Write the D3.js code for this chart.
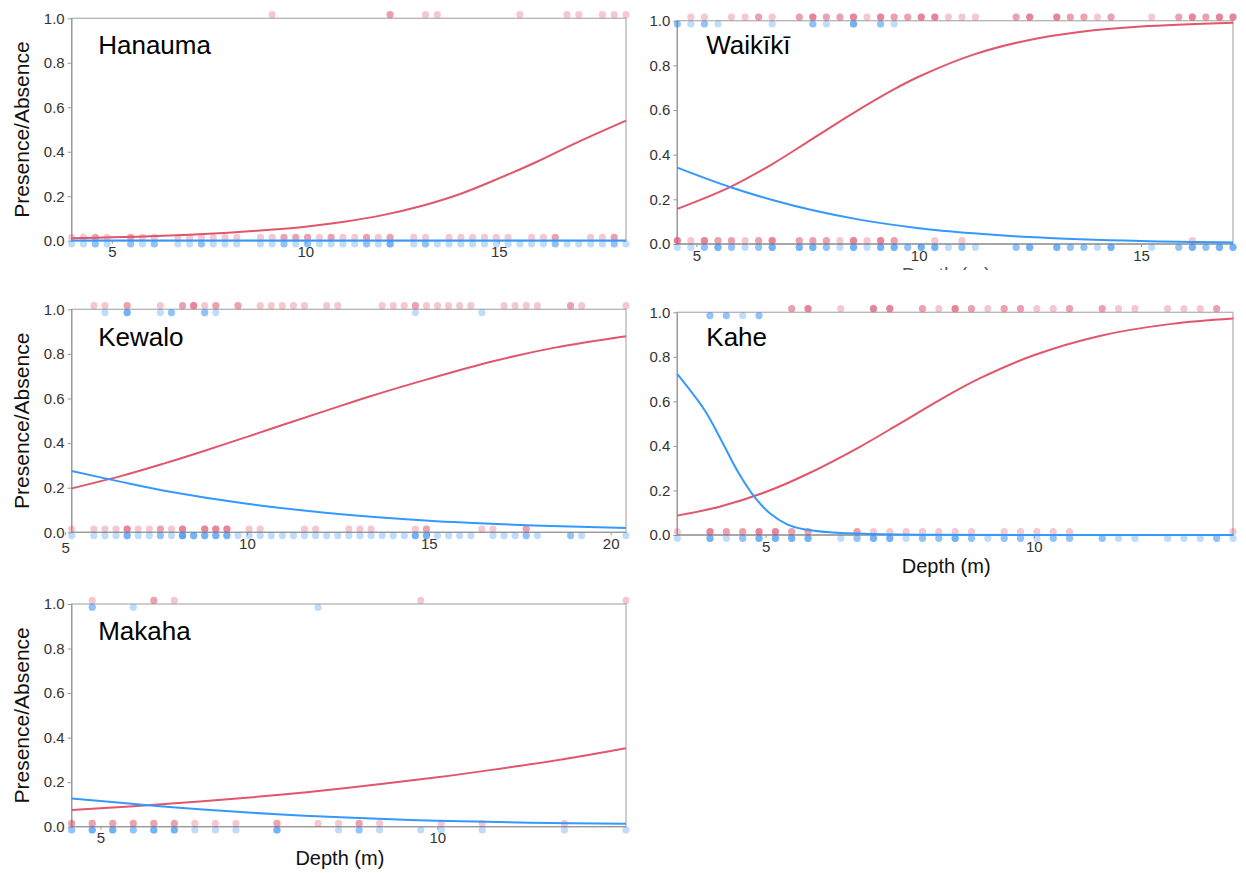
<!DOCTYPE html>
<html><head><meta charset="utf-8">
<script src="https://cdn.jsdelivr.net/npm/d3@7"></script>
<style>body{margin:0;background:#fff}svg{display:block}</style>
</head><body>
<svg id="c" width="1246" height="873"></svg>
<script>
// ---------------- DATA ----------------
const FT_TO_M = 0.3048;           // observation depths were recorded in feet
const yTickValues = [0, 0.2, 0.4, 0.6, 0.8, 1.0];
const siteNames = ["Hanauma", "Waikīkī", "Kewalo", "Kahe", "Makaha"];
const xAxisTitle = "Depth (m)";
const yAxisTitle = "Presence/Absence";

// Hanauma
const hanaumaXTicks = [5, 10, 15];
const hanaumaRedPresentFt = [30, 40, 40, 43, 44, 51, 55, 56, 58, 59, 60];
const hanaumaRedAbsentFt = [13, 14, 15, 15, 16, 18, 18, 19, 20, 22, 23, 24, 25, 26, 27, 29, 30, 31, 31, 32, 32, 33, 33, 34, 35, 35, 36, 37, 38, 38, 39, 40, 40, 42, 43, 45, 46, 47, 48, 49, 50, 52, 53, 54, 54, 57, 58, 59, 59];
const hanaumaBluePresentFt = [];
const hanaumaBlueAbsentFt = [13, 14, 15, 15, 16, 18, 18, 19, 20, 20, 22, 23, 24, 24, 25, 26, 27, 29, 30, 31, 31, 32, 33, 33, 34, 35, 36, 37, 38, 38, 39, 40, 40, 40, 42, 43, 43, 44, 45, 46, 47, 48, 49, 50, 51, 52, 53, 54, 54, 55, 56, 57, 58, 59, 59, 60];
const hanaumaRedCurveM = [3.96, 5, 6, 7, 8, 9, 10, 11, 12, 13, 14, 15, 16, 17, 18.29];
const hanaumaRedCurveP = [0.011, 0.015, 0.02, 0.027, 0.036, 0.048, 0.063, 0.085, 0.115, 0.156, 0.21, 0.28, 0.356, 0.44, 0.54];
const hanaumaBlueCurveM = [3.96, 10, 18.29];
const hanaumaBlueCurveP = [0.001, 0.001, 0.001];

// Waikiki
const waikikiXTicks = [5, 10, 15];
const waikikiRedPresentFt = [16, 17, 19, 20, 21, 21, 22, 24, 24, 25, 25, 25, 26, 26, 27, 27, 28, 28, 28, 29, 30, 30, 30, 31, 31, 32, 32, 33, 33, 33, 34, 34, 34, 35, 36, 37, 40, 40, 41, 41, 41, 43, 43, 43, 44, 44, 45, 45, 46, 47, 47, 50, 52, 52, 53, 53, 53, 54, 54, 55, 55, 55, 56, 56, 56];
const waikikiRedAbsentFt = [15, 15, 15, 16, 17, 17, 17, 18, 18, 19, 19, 20, 21, 21, 22, 22, 22, 24, 24, 25, 25, 26, 26, 27, 28, 28, 28, 29, 30, 30, 30, 31, 31, 34, 36, 53];
const waikikiBluePresentFt = [15, 15, 16, 17, 17, 18, 22, 25, 25, 26, 28, 28, 28, 30, 30, 31];
const waikikiBlueAbsentFt = [15, 16, 17, 17, 18, 18, 18, 19, 19, 20, 21, 21, 22, 22, 22, 24, 24, 24, 25, 25, 25, 26, 26, 27, 28, 28, 28, 29, 30, 30, 30, 31, 31, 31, 32, 32, 33, 33, 33, 34, 34, 34, 35, 36, 36, 37, 40, 40, 41, 41, 41, 43, 43, 43, 44, 44, 45, 45, 46, 47, 47, 47, 50, 52, 52, 53, 53, 53, 54, 54, 55, 55, 55, 56, 56, 56];
const waikikiRedCurveM = [4.57, 5.77, 6.71, 7.62, 8.52, 9.42, 10, 11.23, 12.49, 13.66, 15, 17.07];
const waikikiRedCurveP = [0.157, 0.256, 0.358, 0.472, 0.585, 0.69, 0.749, 0.848, 0.914, 0.951, 0.974, 0.991];
const waikikiBlueCurveM = [4.57, 5.77, 6.71, 7.62, 8.7, 10, 11.23, 12.49, 15, 17.07];
const waikikiBlueCurveP = [0.342, 0.254, 0.197, 0.151, 0.108, 0.071, 0.048, 0.031, 0.013, 0.007];

// Kewalo
const kewaloXTicks = [5, 10, 15, 20];
const kewaloRedPresentFt = [19, 20, 22, 22, 25, 27, 27, 28, 28, 28, 29, 30, 30, 32, 32, 34, 35, 36, 37, 38, 40, 41, 45, 46, 47, 48, 48, 49, 50, 51, 52, 53, 56, 57, 58, 59, 62, 62, 63, 67];
const kewaloRedAbsentFt = [17, 19, 20, 21, 22, 22, 22, 23, 24, 25, 25, 26, 27, 27, 27, 29, 29, 29, 30, 30, 30, 31, 31, 31, 33, 34, 38, 39, 42, 43, 44, 48, 49, 49, 54, 55, 58, 58];
const kewaloBluePresentFt = [20, 22, 22, 22, 25, 26, 26, 29, 29, 30, 48, 54];
const kewaloBlueAbsentFt = [17, 19, 20, 21, 22, 22, 22, 23, 24, 25, 25, 26, 27, 27, 27, 27, 28, 28, 28, 29, 29, 29, 30, 30, 30, 31, 31, 31, 32, 33, 34, 35, 36, 37, 38, 39, 40, 41, 42, 43, 44, 45, 46, 47, 48, 48, 48, 49, 49, 49, 50, 51, 52, 53, 55, 56, 57, 58, 58, 59, 62, 62, 63, 67];
const kewaloRedCurveM = [5.18, 6.58, 7.71, 8.84, 10, 11.1, 12.22, 13.35, 15, 16.74, 18.43, 20.42];
const kewaloRedCurveP = [0.197, 0.254, 0.308, 0.366, 0.428, 0.488, 0.548, 0.608, 0.688, 0.766, 0.827, 0.879];
const kewaloBlueCurveM = [5.18, 6.58, 7.93, 10, 12.22, 15, 17.87, 20.42];
const kewaloBlueCurveP = [0.275, 0.225, 0.181, 0.128, 0.087, 0.052, 0.031, 0.019];

// Kahe
const kaheXTicks = [5, 10];
const kaheRedPresentFt = [18, 18, 19, 19, 19, 21, 23, 23, 23, 24, 24, 24, 26, 26, 27, 28, 28, 28, 29, 29, 30, 31, 31, 32, 32, 33, 34, 35, 35, 37, 37, 38, 39, 41, 42, 43, 44, 44];
const kaheRedAbsentFt = [11, 13, 13, 13, 14, 14, 15, 15, 16, 16, 16, 17, 17, 17, 18, 18, 19, 19, 22, 22, 23, 24, 25, 26, 27, 28, 29, 31, 32, 33, 34, 35, 45];
const kaheBluePresentFt = [13, 13, 14, 14, 15, 16, 16];
const kaheBlueAbsentFt = [11, 13, 13, 13, 14, 15, 15, 16, 16, 16, 17, 17, 17, 18, 18, 18, 19, 19, 19, 21, 22, 22, 23, 23, 23, 24, 24, 24, 25, 26, 26, 27, 27, 28, 28, 28, 29, 29, 30, 31, 31, 32, 32, 33, 34, 34, 35, 35, 37, 37, 38, 39, 41, 42, 43, 44, 44, 45];
const kaheRedCurveM = [3.35, 4.14, 5, 5.78, 6.75, 7.5, 8.25, 8.99, 10, 11.23, 12.57, 13.72];
const kaheRedCurveP = [0.087, 0.127, 0.193, 0.274, 0.395, 0.5, 0.607, 0.703, 0.807, 0.894, 0.948, 0.972];
const kaheBlueCurveM = [3.35, 3.86, 4.17, 4.48, 4.78, 5.09, 5.4, 5.71, 6.2, 7, 8, 13.72];
const kaheBlueCurveP = [0.723, 0.561, 0.427, 0.285, 0.175, 0.095, 0.048, 0.026, 0.012, 0.004, 0.001, 0.0];

// Makaha
const makahaXTicks = [5, 10];
const makahaRedPresentFt = [16, 19, 19, 20, 32, 42];
const makahaRedAbsentFt = [15, 15, 16, 16, 17, 17, 18, 18, 19, 19, 20, 20, 21, 22, 23, 25, 25, 27, 28, 29, 29, 30, 33, 35, 39];
const makahaBluePresentFt = [16, 16, 18, 27];
const makahaBlueAbsentFt = [15, 15, 16, 16, 16, 17, 17, 17, 18, 18, 19, 19, 19, 20, 20, 20, 21, 22, 23, 25, 25, 25, 28, 29, 29, 30, 32, 33, 35, 39, 42];
const makahaRedCurveM = [4.57, 5.49, 6.52, 7.62, 8.65, 10, 10.78, 11.87, 12.8];
const makahaRedCurveP = [0.075, 0.092, 0.114, 0.142, 0.174, 0.222, 0.254, 0.303, 0.352];
const makahaBlueCurveM = [4.57, 5.79, 6.52, 7.62, 8.65, 10, 11.39, 12.8];
const makahaBlueCurveP = [0.127, 0.094, 0.077, 0.056, 0.041, 0.027, 0.018, 0.013];

// ---------------- DRAWING ----------------
const FONT = "'Liberation Sans', Arial, Helvetica, sans-serif";
const RED_LINE = "#e0566b", BLUE_LINE = "#3399ff";
const RED_DOT = "#dc4a62", BLUE_DOT = "#2a8bf2";
const DOT_ALPHA = 0.3;
const svg = d3.select("#c");

const panels = [
  {name: siteNames[0], xt: hanaumaXTicks, rp: hanaumaRedPresentFt, ra: hanaumaRedAbsentFt, bp: hanaumaBluePresentFt, ba: hanaumaBlueAbsentFt,
   rcx: hanaumaRedCurveM, rcy: hanaumaRedCurveP, bcx: hanaumaBlueCurveM, bcy: hanaumaBlueCurveP,
   box: [71.7, 626, 18.3, 240.7], ylab: true, xlab: false, title: [26.5, 36]},
  {name: siteNames[1], xt: waikikiXTicks, rp: waikikiRedPresentFt, ra: waikikiRedAbsentFt, bp: waikikiBluePresentFt, ba: waikikiBlueAbsentFt,
   rcx: waikikiRedCurveM, rcy: waikikiRedCurveP, bcx: waikikiBlueCurveM, bcy: waikikiBlueCurveP,
   box: [677.3, 1233, 20.7, 244], ylab: false, xlab: "partial", title: [29, 33]},
  {name: siteNames[2], xt: kewaloXTicks, rp: kewaloRedPresentFt, ra: kewaloRedAbsentFt, bp: kewaloBluePresentFt, ba: kewaloBlueAbsentFt,
   rcx: kewaloRedCurveM, rcy: kewaloRedCurveP, bcx: kewaloBlueCurveM, bcy: kewaloBlueCurveP,
   box: [71.7, 626, 309.3, 532.3], ylab: true, xlab: false, title: [26.5, 36.4]},
  {name: siteNames[3], xt: kaheXTicks, rp: kaheRedPresentFt, ra: kaheRedAbsentFt, bp: kaheBluePresentFt, ba: kaheBlueAbsentFt,
   rcx: kaheRedCurveM, rcy: kaheRedCurveP, bcx: kaheBlueCurveM, bcy: kaheBlueCurveP,
   box: [677.3, 1233, 312.3, 535], ylab: false, xlab: true, title: [29, 33.4]},
  {name: siteNames[4], xt: makahaXTicks, rp: makahaRedPresentFt, ra: makahaRedAbsentFt, bp: makahaBluePresentFt, ba: makahaBlueAbsentFt,
   rcx: makahaRedCurveM, rcy: makahaRedCurveP, bcx: makahaBlueCurveM, bcy: makahaBlueCurveP,
   box: [71.7, 626, 604, 826.7], ylab: true, xlab: true, title: [26.5, 36]}
];

// clip for the partially hidden axis title under the Waikiki panel
const defs = svg.append("defs");
defs.append("clipPath").attr("id", "partialClip").append("rect")
  .attr("x", 600).attr("y", 0).attr("width", 646).attr("height", 270);

panels.forEach((p, i) => {
  const [L, R, T, B] = p.box;
  const allFt = [...p.rp, ...p.ra, ...p.bp, ...p.ba];
  const x = d3.scaleLinear().domain(d3.extent(allFt).map(f => f * FT_TO_M)).range([L, R]);
  const y = d3.scaleLinear().domain([0, 1]).range([B, T]);
  const g = svg.append("g");

  // frame
  g.append("rect").attr("x", L).attr("y", T).attr("width", R - L).attr("height", B - T)
    .attr("fill", "none").attr("stroke", "#b4b4b4").attr("stroke-width", 1.3);
  g.append("line").attr("x1", L).attr("x2", L).attr("y1", T).attr("y2", B)
    .attr("stroke", "#9a9a9a").attr("stroke-width", 1.3);
  g.append("line").attr("x1", L).attr("x2", R).attr("y1", B).attr("y2", B)
    .attr("stroke", "#9a9a9a").attr("stroke-width", 1.3);

  // y axis
  const ya = g.append("g").attr("transform", `translate(${L},0)`)
    .call(d3.axisLeft(y).tickValues(yTickValues).tickFormat(d3.format(".1f")).tickSize(4).tickPadding(3));
  ya.select(".domain").remove();
  ya.selectAll(".tick line").attr("stroke", "#9a9a9a");
  ya.selectAll(".tick text").attr("fill", "#333").style("font-family", FONT).style("font-size", "15px");

  // x axis
  const xa = g.append("g").attr("transform", `translate(0,${B})`)
    .call(d3.axisBottom(x).tickValues(p.xt).tickFormat(d3.format("d")).tickSize(3).tickPadding(3));
  xa.select(".domain").remove();
  xa.selectAll(".tick line").attr("stroke", "#9a9a9a");
  xa.selectAll(".tick text").attr("fill", "#333").style("font-family", FONT).style("font-size", "15px");
  // a tick that falls left of the plot edge (Kewalo "5") sits just under the 0.0 label
  xa.selectAll(".tick").filter(d => x(d) < L).select("text").attr("y", 10);

  // observation dots (red nudged up, blue nudged down so both stay visible)
  const dots = [];
  p.ra.forEach(f => dots.push({ft: f, v: 0, c: RED_DOT, off: -3.3}));
  p.ba.forEach(f => dots.push({ft: f, v: 0, c: BLUE_DOT, off: 3.3}));
  p.rp.forEach(f => dots.push({ft: f, v: 1, c: RED_DOT, off: -3.6}));
  p.bp.forEach(f => dots.push({ft: f, v: 1, c: BLUE_DOT, off: 3.3}));
  g.append("g").selectAll("circle").data(dots).join("circle")
    .attr("cx", d => x(d.ft * FT_TO_M)).attr("cy", d => y(d.v) + d.off)
    .attr("r", 3.6).attr("fill", d => d.c).attr("fill-opacity", DOT_ALPHA);

  // fitted curves
  const line = d3.line().x(d => x(d[0])).y(d => y(d[1])).curve(d3.curveCatmullRom.alpha(0.5));
  g.append("path").datum(d3.zip(p.rcx, p.rcy)).attr("d", line)
    .attr("fill", "none").attr("stroke", RED_LINE).attr("stroke-width", 2);
  g.append("path").datum(d3.zip(p.bcx, p.bcy)).attr("d", line)
    .attr("fill", "none").attr("stroke", BLUE_LINE).attr("stroke-width", 2);

  // site title
  g.append("text").attr("x", L + p.title[0]).attr("y", T + p.title[1])
    .style("font-family", FONT).style("font-size", "26px").attr("fill", "#000").text(p.name);

  // y axis title
  if (p.ylab) {
    g.append("text").attr("transform", `translate(29,${(T + B) / 2}) rotate(-90)`)
      .attr("text-anchor", "middle").style("font-family", FONT).style("font-size", "21px")
      .attr("fill", "#111").text(yAxisTitle);
  }
  // x axis title
  if (p.xlab) {
    const t = g.append("text").attr("x", (L + R) / 2 - 9).attr("y", B + 38)
      .attr("text-anchor", "middle").style("font-family", FONT).style("font-size", "20px")
      .attr("fill", "#111").text(xAxisTitle);
    if (p.xlab === "partial") t.attr("clip-path", "url(#partialClip)").attr("fill", "#555");
  }
});
</script>
</body></html>
